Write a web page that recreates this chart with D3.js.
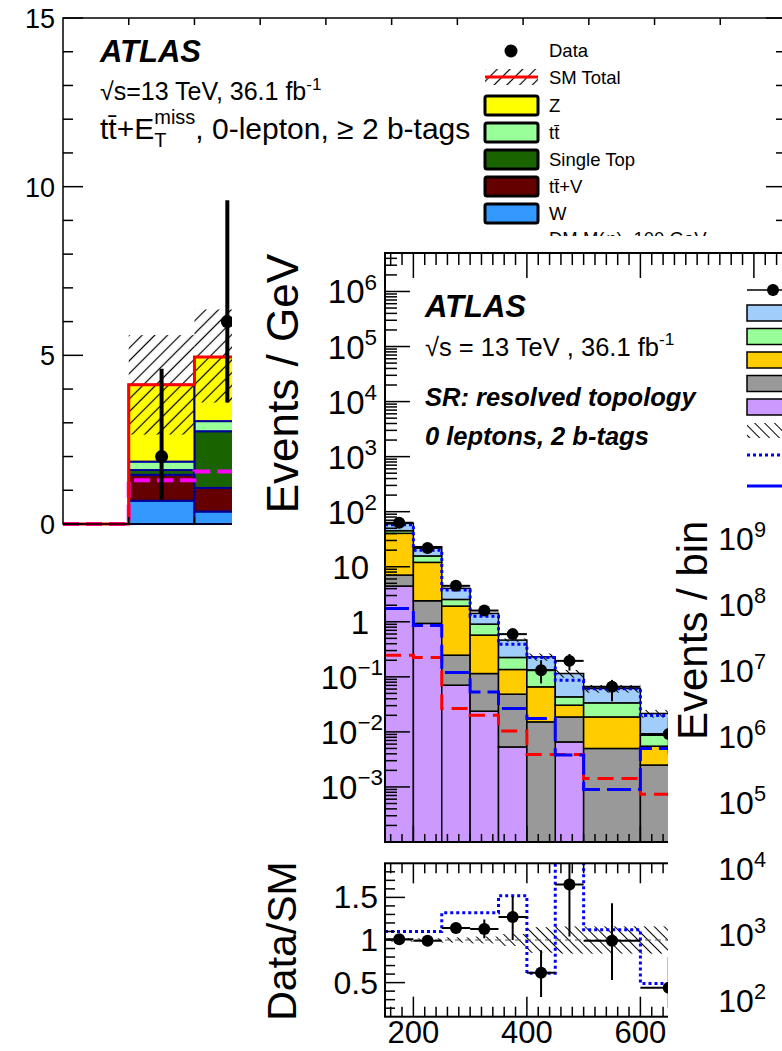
<!DOCTYPE html>
<html>
<head>
<meta charset="utf-8">
<script src="https://cdn.jsdelivr.net/npm/d3@7"></script>
<style>
  html, body { margin: 0; padding: 0; background: #fff; }
  svg { display: block; }
  text { font-family: "Liberation Sans", Arial, Helvetica, sans-serif; fill: #000; }
</style>
</head>
<body>
<svg id="chart" width="782" height="1051"></svg>
<script>
// ---------- left plot: ttbar + MET, 0-lepton (bins are index units) ----------
const leftBins = [0, 1, 2];
const leftW = [0, 0.69, 0.37];
const leftTtV = [0, 0.77, 0.70];
const leftSingleTop = [0, 0.14, 1.68];
const leftTtbar = [0, 0.25, 0.30];
const leftZ = [0, 2.28, 1.90];
const leftData = [null, 2.0, 6.0];
const leftDataLo = [null, 0.72, 3.6];
const leftDataHi = [null, 4.6, 9.6];
const leftUncLo = [0, 2.65, 3.6];
const leftUncHi = [0, 5.6, 6.36];
const leftSignal = [0, 1.3, 1.56];
const leftYTicks = [0, 5, 10, 15];
const leftLegend = ['Z', 'tt\u0304', 'Single Top', 'tt\u0304+V', 'W'];

// ---------- middle plot: SR resolved topology, 0 leptons, 2 b-tags ----------
const srEdges = [150, 200, 250, 300, 350, 400, 450, 500, 600, 700];
const srLightBlue = [16.3, 7.4, 1.5, 0.512, 0.24, 0.099, 0.0717, 0.0278, 0.0129];
const srGreen = [4.7, 3.7, 0.62, 0.335, 0.089, 0.0662, 0.0127, 0.015, 0.0032];
const srOrange = [33.4, 9.6, 1.68, 0.458, 0.0876, 0.0506, 0.0119, 0.0137, 0.003];
const srGray = [2.6, 1.475, 0.177, 0.091, 0.0431, 0.0152, 0.0121, 0.005, 0.0025];
const srPurple = [4.46, 0.935, 0.0706, 0.0238, 0.00533, 0, 0.00658, 0, 0];
const srData = [63, 22, 4.5, 1.6, 0.597, 0.132, 0.195, 0.0658, 0.0092];
const srDataLo = [59, 19.8, 4.1, 1.4, 0.5, 0.076, 0.13, 0.036, 0.004];
const srDataHi = [67, 24.5, 5.0, 1.8, 0.71, 0.2, 0.26, 0.088, 0.018];
const srDotted = [58, 20, 3.77, 1.26, 0.39, 0.225, 0.087, 0.0605, 0.0198];
const srSignalBlue = [1.75, 0.86, 0.12, 0.0533, 0.0266, 0.0175, 0.0038, 0.0009, 0.005];
const srSignalRed = [0.248, 0.225, 0.0266, 0.0201, 0.0104, 0.0039, 0.0039, 0.00142, 0.00074];
const srUncRel = [0.02, 0.02, 0.03, 0.04, 0.07, 0.15, 0.16, 0.16, 0.16];
const srRatio = [1.01, 0.99, 1.14, 1.13, 1.27, 0.615, 1.65, 0.99, 0.44];
const srRatioLo = [0.97, 0.95, 1.09, 1.02, 1.0, 0.33, 1.04, 0.53, 0.2];
const srRatioHi = [1.05, 1.03, 1.19, 1.24, 1.51, 0.88, 2.3, 1.43, 0.8];
const srRatioDotted = [1.1, 1.1, 1.32, 1.32, 1.52, 0.61, 2.0, 1.12, 0.49];
const srDecades = [-3, -2, -1, 0, 1, 2, 3, 4, 5, 6];
const srXTicks = [200, 400, 600];
const srRatioTicks = [0.5, 1, 1.5];

// ---------- right plot: only its axis labels show ----------
const rightDecades = [2, 3, 4, 5, 6, 7, 8, 9];

const COLORS = {
  W: '#3399ff', TtV: '#640000', SingleTop: '#1a6400', Ttbar: '#99ff99', Z: '#ffff00',
  lightBlue: '#a0cdfa', green: '#99ff99', orange: '#ffcc00', gray: '#999999', purple: '#cc99ff',
};

const svg = d3.select('#chart');
const defs = svg.append('defs');

function hatch(id, angle, spacing, width) {
  defs.append('pattern')
    .attr('id', id)
    .attr('patternUnits', 'userSpaceOnUse')
    .attr('width', spacing).attr('height', spacing)
    .attr('patternTransform', `rotate(${angle})`)
    .append('line')
    .attr('x1', spacing / 2).attr('y1', 0).attr('x2', spacing / 2).attr('y2', spacing)
    .attr('stroke', '#000').attr('stroke-width', width);
}
hatch('hatchA', 45, 9, 1.2);
hatch('hatchB', -45, 7, 1);

function clip(id, x, y, w, h) {
  defs.append('clipPath').attr('id', id)
    .append('rect').attr('x', x).attr('y', y).attr('width', w).attr('height', h);
}

// text with a superscript
function supText(g, x, y, base, sup, size, anchor = 'end') {
  const t = g.append('text').attr('x', x).attr('y', y)
    .attr('font-size', size).attr('text-anchor', anchor);
  t.append('tspan').text(base);
  if (sup) t.append('tspan').attr('dy', -size * 0.42).attr('font-size', size * 0.68).text(sup);
  return t;
}

function stepPath(edges, vals, x, y) {
  const pts = vals.map((v, i) => [x(edges[i]), y(v)]);
  pts.push([x(edges[edges.length - 1]), y(vals[vals.length - 1])]);
  return d3.line().curve(d3.curveStepAfter)(pts);
}

function tick(g, x1, y1, x2, y2) {
  g.append('line').attr('x1', x1).attr('y1', y1).attr('x2', x2).attr('y2', y2)
    .attr('stroke', '#000').attr('stroke-width', 1.5);
}

// =====================================================================
// Left plot
// =====================================================================
const gA = svg.append('g');
const ax = d3.scaleLinear().domain([0, 11]).range([63, 786]);
const ay = d3.scaleLinear().domain([0, 15]).range([524, 18]);

const leftKeys = ['W', 'TtV', 'SingleTop', 'Ttbar', 'Z'];
const leftRows = leftBins.map((b, i) => ({
  bin: b, W: leftW[i], TtV: leftTtV[i], SingleTop: leftSingleTop[i], Ttbar: leftTtbar[i], Z: leftZ[i],
}));
const leftStack = d3.stack().keys(leftKeys)(leftRows);

leftStack.forEach(layer => {
  gA.append('g').selectAll('rect')
    .data(layer.filter(d => d[1] - d[0] > 0))
    .join('rect')
    .attr('x', d => ax(d.data.bin))
    .attr('width', ax(1) - ax(0))
    .attr('y', d => ay(d[1]))
    .attr('height', d => ay(d[0]) - ay(d[1]))
    .attr('fill', COLORS[layer.key])
    .attr('stroke', '#000099')
    .attr('stroke-width', 2);
});

// uncertainty hatch
gA.append('g').selectAll('rect')
  .data(leftBins.filter((b, i) => leftUncHi[i] > 0))
  .join('rect')
  .attr('x', b => ax(b))
  .attr('width', ax(1) - ax(0))
  .attr('y', b => ay(leftUncHi[b]))
  .attr('height', b => ay(leftUncLo[b]) - ay(leftUncHi[b]))
  .attr('fill', 'url(#hatchA)');

const leftEdges = [...leftBins, leftBins.length];
const leftTotal = leftRows.map(r => leftKeys.reduce((s, k) => s + r[k], 0));

gA.append('path')
  .attr('d', stepPath(leftEdges, leftSignal, ax, ay))
  .attr('fill', 'none').attr('stroke', '#ff00ff').attr('stroke-width', 4)
  .attr('stroke-dasharray', '16,7');

gA.append('path')
  .attr('d', stepPath(leftEdges, leftTotal, ax, ay))
  .attr('fill', 'none').attr('stroke', '#ff0000').attr('stroke-width', 3);

// data
leftBins.forEach((b, i) => {
  if (leftData[i] == null) return;
  const cx = ax(b + 0.5);
  gA.append('line')
    .attr('x1', cx).attr('x2', cx)
    .attr('y1', ay(leftDataLo[i])).attr('y2', ay(leftDataHi[i]))
    .attr('stroke', '#000').attr('stroke-width', 4);
  gA.append('circle').attr('cx', cx).attr('cy', ay(leftData[i])).attr('r', 6.5);
});

// frame and ticks
gA.append('rect')
  .attr('x', ax(0)).attr('y', ay(15))
  .attr('width', ax(11) - ax(0)).attr('height', ay(0) - ay(15))
  .attr('fill', 'none').attr('stroke', '#000').attr('stroke-width', 1.5);

d3.range(0, 16).forEach(v => {
  const len = v % 5 === 0 ? 20 : 10;
  tick(gA, ax(0), ay(v), ax(0) + len, ay(v));
  tick(gA, ax(11), ay(v), ax(11) - len, ay(v));
});
d3.range(1, 11).forEach(v => {
  tick(gA, ax(v), ay(15), ax(v), ay(15) + 7);
  tick(gA, ax(v), ay(0), ax(v), ay(0) - 7);
});
leftYTicks.forEach(v => {
  gA.append('text').attr('x', 55).attr('y', ay(v) + 10)
    .attr('font-size', 27).attr('text-anchor', 'end').text(v);
});

// labels
gA.append('text').attr('x', 100).attr('y', 62)
  .attr('font-size', 31).attr('font-weight', 'bold').attr('font-style', 'italic').text('ATLAS');
supText(gA, 100, 100, '\u221As=13 TeV, 36.1 fb', '-1', 25, 'start');
const tA = gA.append('text').attr('x', 100).attr('y', 139).attr('font-size', 30);
tA.append('tspan').text('tt\u0304+E');
tA.append('tspan').attr('dy', 8).attr('font-size', 20).text('T');
tA.append('tspan').attr('dx', -12.2).attr('dy', -23).attr('font-size', 20).text('miss');
tA.append('tspan').attr('dy', 15).text(', 0-lepton, \u2265 2 b-tags');

// legend
const legA = gA.append('g');
legA.append('circle').attr('cx', 511).attr('cy', 51).attr('r', 6.5);
legA.append('text').attr('x', 549).attr('y', 57).attr('font-size', 18.5).text('Data');
legA.append('rect').attr('x', 485).attr('y', 69).attr('width', 53).attr('height', 16)
  .attr('fill', 'url(#hatchA)');
legA.append('line').attr('x1', 485).attr('x2', 538).attr('y1', 77).attr('y2', 77)
  .attr('stroke', '#ff0000').attr('stroke-width', 3);
legA.append('text').attr('x', 549).attr('y', 84).attr('font-size', 18.5).text('SM Total');
const legKeysA = ['Z', 'Ttbar', 'SingleTop', 'TtV', 'W'];
legKeysA.forEach((k, i) => {
  const y = 96 + i * 27;
  legA.append('rect').attr('x', 485).attr('y', y).attr('width', 53).attr('height', 19)
    .attr('rx', 2).attr('fill', COLORS[k]).attr('stroke', '#000').attr('stroke-width', 3);
  legA.append('text').attr('x', 549).attr('y', y + 16).attr('font-size', 18.5).text(leftLegend[i]);
});
legA.append('text').attr('x', 549).attr('y', 245).attr('font-size', 18.5).text('DM M(\u03C6)=100 GeV');

// =====================================================================
// Middle plot (card on top of the left one)
// =====================================================================
svg.append('rect').attr('x', 232).attr('y', 236).attr('width', 560).attr('height', 820).attr('fill', '#fff');
const gB = svg.append('g');

const bx = d3.scaleLinear().domain([150, 1000]).range([385, 867.4]);
const by = d3.scaleLog().domain([1e-4, 5e6]).range([842, 253]).clamp(true);
const br = d3.scaleLinear().domain([0.1, 1.9]).range([1016.7, 863.3]);
const byv = v => (v > 0 ? by(v) : by.range()[0]);

clip('clipMain', 385, 253, 482, 589);
clip('clipRatio', 385, 863.3, 482, 153.4);

const mainG = gB.append('g').attr('clip-path', 'url(#clipMain)');
const srKeys = ['purple', 'gray', 'orange', 'green', 'lightBlue'];
const srRows = srEdges.slice(0, -1).map((e, i) => ({
  i, lo: e, hi: srEdges[i + 1],
  purple: srPurple[i], gray: srGray[i], orange: srOrange[i], green: srGreen[i], lightBlue: srLightBlue[i],
}));
const srStack = d3.stack().keys(srKeys)(srRows);
srStack.forEach(layer => {
  mainG.append('g').selectAll('rect')
    .data(layer.filter(d => d[1] - d[0] > 0))
    .join('rect')
    .attr('x', d => bx(d.data.lo))
    .attr('width', d => bx(d.data.hi) - bx(d.data.lo))
    .attr('y', d => byv(d[1]))
    .attr('height', d => byv(d[0]) - byv(d[1]))
    .attr('fill', COLORS[layer.key])
    .attr('stroke', '#000')
    .attr('stroke-width', 1.5);
});
const srTotal = srRows.map(r => srKeys.reduce((s, k) => s + r[k], 0));

mainG.append('g').selectAll('rect')
  .data(srRows)
  .join('rect')
  .attr('x', d => bx(d.lo))
  .attr('width', d => bx(d.hi) - bx(d.lo))
  .attr('y', d => by(srTotal[d.i] * (1 + srUncRel[d.i])))
  .attr('height', d => by(srTotal[d.i] * (1 - srUncRel[d.i])) - by(srTotal[d.i] * (1 + srUncRel[d.i])))
  .attr('fill', 'url(#hatchB)');

mainG.append('path').attr('d', stepPath(srEdges, srSignalRed, bx, by))
  .attr('fill', 'none').attr('stroke', '#ff0000').attr('stroke-width', 3).attr('stroke-dasharray', '16,8');
mainG.append('path').attr('d', stepPath(srEdges, srSignalBlue, bx, by))
  .attr('fill', 'none').attr('stroke', '#0000ff').attr('stroke-width', 3).attr('stroke-dasharray', '24,7');
mainG.append('path').attr('d', stepPath(srEdges, srDotted, bx, by))
  .attr('fill', 'none').attr('stroke', '#0000ff').attr('stroke-width', 3).attr('stroke-dasharray', '3,3');

srRows.forEach(d => {
  const cx = bx((d.lo + d.hi) / 2);
  const cy = by(srData[d.i]);
  mainG.append('line').attr('x1', bx(d.lo)).attr('x2', bx(d.hi)).attr('y1', cy).attr('y2', cy)
    .attr('stroke', '#000').attr('stroke-width', 2);
  mainG.append('line').attr('x1', cx).attr('x2', cx)
    .attr('y1', by(srDataLo[d.i])).attr('y2', by(srDataHi[d.i]))
    .attr('stroke', '#000').attr('stroke-width', 2);
  mainG.append('circle').attr('cx', cx).attr('cy', cy).attr('r', 6);
});

// ratio panel
const ratioG = gB.append('g').attr('clip-path', 'url(#clipRatio)');
ratioG.append('g').selectAll('rect')
  .data(srRows)
  .join('rect')
  .attr('x', d => bx(d.lo))
  .attr('width', d => bx(d.hi) - bx(d.lo))
  .attr('y', d => br(1 + srUncRel[d.i]))
  .attr('height', d => br(1 - srUncRel[d.i]) - br(1 + srUncRel[d.i]))
  .attr('fill', 'url(#hatchB)');
ratioG.append('line').attr('x1', bx(150)).attr('x2', bx(1000)).attr('y1', br(1)).attr('y2', br(1))
  .attr('stroke', '#555').attr('stroke-width', 1).attr('stroke-dasharray', '6,4');
ratioG.append('path').attr('d', stepPath(srEdges, srRatioDotted, bx, br))
  .attr('fill', 'none').attr('stroke', '#0000ff').attr('stroke-width', 3).attr('stroke-dasharray', '3,3');
srRows.forEach(d => {
  const cx = bx((d.lo + d.hi) / 2);
  const cy = br(srRatio[d.i]);
  ratioG.append('line').attr('x1', bx(d.lo)).attr('x2', bx(d.hi)).attr('y1', cy).attr('y2', cy)
    .attr('stroke', '#000').attr('stroke-width', 2);
  ratioG.append('line').attr('x1', cx).attr('x2', cx)
    .attr('y1', br(srRatioLo[d.i])).attr('y2', br(srRatioHi[d.i]))
    .attr('stroke', '#000').attr('stroke-width', 2);
  ratioG.append('circle').attr('cx', cx).attr('cy', cy).attr('r', 6);
});

// frames
[[by.range()[1], by.range()[0]], [br.range()[1], br.range()[0]]].forEach(([top, bottom]) => {
  gB.append('rect').attr('x', bx(150)).attr('y', top)
    .attr('width', bx(1000) - bx(150)).attr('height', bottom - top)
    .attr('fill', 'none').attr('stroke', '#000').attr('stroke-width', 2);
});

// log y ticks
d3.range(-4, 7).forEach(e => {
  d3.range(1, 10).forEach(m => {
    const v = m * Math.pow(10, e);
    if (v < 1e-4 || v > 5e6) return;
    tick(gB, bx(150), by(v), bx(150) + (m === 1 ? 25 : 12), by(v));
  });
});
// x ticks
d3.range(160, 1001, 20).forEach(v => {
  const major = v % 200 === 0;
  tick(gB, bx(v), by.range()[1], bx(v), by.range()[1] + (major ? 25 : 12));
  tick(gB, bx(v), by.range()[0], bx(v), by.range()[0] - (major ? 16 : 8));
  tick(gB, bx(v), br.range()[1], bx(v), br.range()[1] + (major ? 20 : 10));
  tick(gB, bx(v), br.range()[0], bx(v), br.range()[0] - (major ? 20 : 10));
});
d3.range(2, 19).forEach(k => {
  const v = k / 10;
  tick(gB, bx(150), br(v), bx(150) + (k % 5 === 0 ? 20 : 10), br(v));
});

// tick labels
srDecades.forEach(e => {
  const y = by(Math.pow(10, e)) + 12;
  if (e === 0) supText(gB, 369, y, '1', null, 33);
  else if (e === 1) supText(gB, 369, y, '10', null, 33);
  else supText(gB, e < 0 ? 383 : 377, y, '10', e < 0 ? '\u2212' + (-e) : String(e), 33);
});
srRatioTicks.forEach(v => {
  gB.append('text').attr('x', 378).attr('y', br(v) + 11)
    .attr('font-size', 32).attr('text-anchor', 'end').text(v);
});
srXTicks.forEach(v => {
  gB.append('text').attr('x', bx(v)).attr('y', 1043)
    .attr('font-size', 31).attr('text-anchor', 'middle').text(v);
});

gB.append('text').attr('transform', 'translate(298,254) rotate(-90)')
  .attr('font-size', 44).attr('text-anchor', 'end').text('Events / GeV');
gB.append('text').attr('transform', 'translate(296,941) rotate(-90)')
  .attr('font-size', 41).attr('text-anchor', 'middle').text('Data/SM');

gB.append('text').attr('x', 425).attr('y', 317)
  .attr('font-size', 31).attr('font-weight', 'bold').attr('font-style', 'italic').text('ATLAS');
supText(gB, 425, 356, '\u221As = 13 TeV , 36.1 fb', '-1', 25.5, 'start');
gB.append('text').attr('x', 425).attr('y', 406)
  .attr('font-size', 25.5).attr('font-weight', 'bold').attr('font-style', 'italic').text('SR: resolved topology');
gB.append('text').attr('x', 425).attr('y', 445)
  .attr('font-size', 25.5).attr('font-weight', 'bold').attr('font-style', 'italic').text('0 leptons, 2 b-tags');

// legend (cut at the page edge)
const legB = gB.append('g');
tick(legB, 747, 290, 790, 290);
tick(legB, 773, 284, 773, 296);
legB.append('circle').attr('cx', 773).attr('cy', 290).attr('r', 6);
['lightBlue', 'green', 'orange', 'gray', 'purple'].forEach((k, i) => {
  legB.append('rect').attr('x', 747).attr('y', 305 + i * 23.5).attr('width', 60).attr('height', 16)
    .attr('fill', COLORS[k]).attr('stroke', '#000').attr('stroke-width', 1.5);
});
legB.append('rect').attr('x', 747).attr('y', 423).attr('width', 60).attr('height', 15).attr('fill', 'url(#hatchB)');
legB.append('line').attr('x1', 747).attr('x2', 790).attr('y1', 455).attr('y2', 455)
  .attr('stroke', '#0000ff').attr('stroke-width', 3).attr('stroke-dasharray', '3,3');
legB.append('line').attr('x1', 747).attr('x2', 790).attr('y1', 486).attr('y2', 486)
  .attr('stroke', '#0000ff').attr('stroke-width', 3);

// =====================================================================
// Right plot (card on top of the middle one)
// =====================================================================
svg.append('rect').attr('x', 668).attr('y', 500).attr('width', 120).attr('height', 560).attr('fill', '#fff');
const gC = svg.append('g');
const cy = d3.scaleLog().domain([100, 1e9]).range([1000, 538]);
rightDecades.forEach(e => {
  const y = cy(Math.pow(10, e)) + 12;
  supText(gC, 766, y, '10', String(e), 32);
});
gC.append('text').attr('transform', 'translate(707,740) rotate(-90)')
  .attr('font-size', 42).attr('text-anchor', 'start').text('Events / bin');
</script>
</body>
</html>
